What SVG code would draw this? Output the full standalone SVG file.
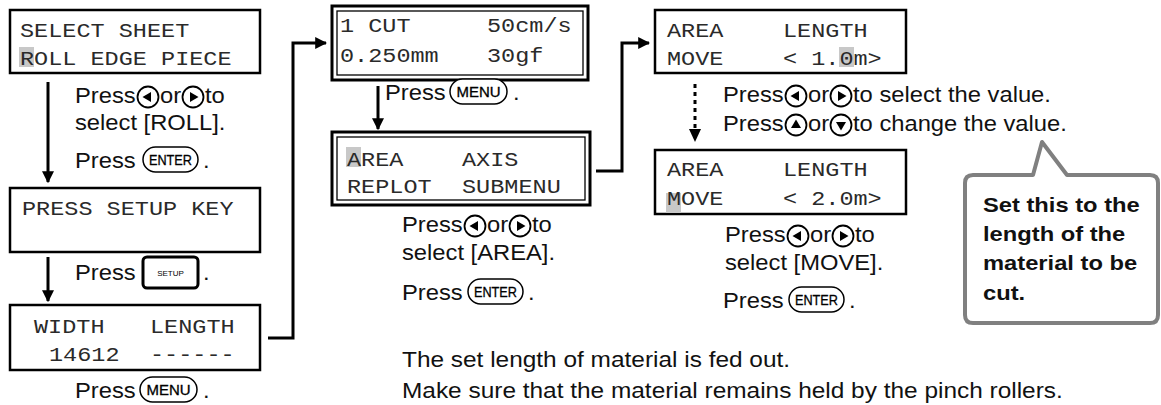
<svg xmlns="http://www.w3.org/2000/svg" width="1161" height="405" viewBox="0 0 1161 405">
<style>
.lcd{fill:#fff;stroke:#000;stroke-width:2.5}
.out{fill:#fff;stroke:#000;stroke-width:3}
.inn{fill:none;stroke:#000;stroke-width:1.3}
.mono{font-family:"Liberation Mono","DejaVu Sans Mono",monospace;font-size:21px;fill:#2a2a2a;transform-box:fill-box;transform-origin:0 0;transform:scaleX(1.12)}
.t{font-family:"Liberation Sans",Arial,sans-serif;font-size:22px;fill:#111;transform-box:fill-box;transform-origin:0 0;transform:scaleX(1.08)}
.n{font-family:"Liberation Sans",Arial,sans-serif;font-size:22px;fill:#111;transform-box:fill-box;transform-origin:0 0;transform:scaleX(1.11)}
.b{font-family:"Liberation Sans",Arial,sans-serif;font-size:21px;font-weight:bold;fill:#111;transform-box:fill-box;transform-origin:0 0;transform:scaleX(1.13)}
.hl{fill:#c8c8c8}
.ln{fill:none;stroke:#000;stroke-width:3}
.dot{fill:none;stroke:#000;stroke-width:3;stroke-dasharray:4 4}
.key{fill:#fff;stroke:#000;stroke-width:1.5}
.kt{font-family:"Liberation Sans",Arial,sans-serif;font-size:14px;fill:#000;stroke:#000;stroke-width:0.3}
.st{font-family:"Liberation Sans",Arial,sans-serif;font-size:8px;fill:#000}
</style>
<defs>
<g id="bL"><circle r="10.5" fill="#fff" stroke="#000" stroke-width="1.8"/><polygon points="-5.5,0 3,-5 3,5" fill="#000"/></g>
<g id="bR"><circle r="10.5" fill="#fff" stroke="#000" stroke-width="1.8"/><polygon points="5.5,0 -3,-5 -3,5" fill="#000"/></g>
<g id="bU"><circle r="10.5" fill="#fff" stroke="#000" stroke-width="1.8"/><polygon points="0,-5.5 -5,3 5,3" fill="#000"/></g>
<g id="bD"><circle r="10.5" fill="#fff" stroke="#000" stroke-width="1.8"/><polygon points="0,5.5 -5,-3 5,-3" fill="#000"/></g>
<g id="enter"><rect x="0" y="-21" width="55" height="25" rx="12.5" class="key"/><text x="27.5" y="-3" text-anchor="middle" class="kt" textLength="43" lengthAdjust="spacingAndGlyphs">ENTER</text></g>
<g id="menu"><rect x="0" y="-21" width="57" height="25" rx="12.5" class="key"/><text x="28.5" y="-3" text-anchor="middle" class="kt" textLength="44" lengthAdjust="spacingAndGlyphs">MENU</text></g>
<marker id="ah" viewBox="0 0 10 10" refX="9" refY="5" markerWidth="4" markerHeight="4" orient="auto" markerUnits="strokeWidth"><path d="M0,0 L10,5 L0,10 z" fill="#000"/></marker>
</defs>

<g id="connectors">
<line x1="48" y1="82" x2="48" y2="182" class="ln" marker-end="url(#ah)"/>
<line x1="48" y1="257" x2="48" y2="301" class="ln" marker-end="url(#ah)"/>
<polyline points="268,338 293,338 293,43 326,43" class="ln" marker-end="url(#ah)"/>
<line x1="378" y1="86" x2="378" y2="129" class="ln" marker-end="url(#ah)"/>
<polyline points="596,171 622,171 622,43 649,43" class="ln" marker-end="url(#ah)"/>
<line x1="695" y1="84" x2="695" y2="130" class="dot"/>
<polygon points="689,129 701,129 695,142" fill="#000"/>
</g>

<g id="lcd-select-sheet">
<rect x="10" y="10" width="250" height="63" class="lcd"/>
<rect x="19" y="47" width="15" height="20" class="hl"/>
<text x="20" y="37" class="mono">SELECT SHEET</text>
<text x="20" y="65" class="mono">ROLL EDGE PIECE</text>
</g>

<g id="step-roll">
<text x="75" y="103" class="t">Press</text>
<use href="#bL" x="148" y="97"/>
<text x="160" y="103" class="t">or</text>
<use href="#bR" x="193" y="97"/>
<text x="205" y="103" class="t">to</text>
<text x="75" y="130" class="t">select [ROLL].</text>
<text x="75" y="168" class="t">Press</text>
<use href="#enter" x="143" y="168"/>
<text x="203" y="168" class="t">.</text>
</g>

<g id="lcd-press-setup">
<rect x="10" y="188" width="250" height="64" class="lcd"/>
<text x="22" y="215" class="mono">PRESS SETUP KEY</text>
</g>

<g id="step-setup">
<text x="75" y="280" class="t">Press</text>
<rect x="143" y="257" width="55" height="31" rx="4" fill="#fff" stroke="#000" stroke-width="3"/>
<text x="170.5" y="276" text-anchor="middle" class="st">SETUP</text>
<text x="203" y="280" class="t">.</text>
</g>

<g id="lcd-width-length">
<rect x="10" y="305" width="250" height="65" class="lcd"/>
<text x="34" y="333" class="mono">WIDTH</text>
<text x="150" y="333" class="mono">LENGTH</text>
<text x="49" y="361" class="mono">14612</text>
<text x="150" y="361" class="mono">------</text>
</g>

<g id="step-menu1">
<text x="75" y="398" class="t">Press</text>
<use href="#menu" x="140" y="398"/>
<text x="203" y="398" class="t">.</text>
</g>

<g id="lcd-cut">
<rect x="332" y="6" width="256" height="74" class="out"/>
<rect x="337" y="11" width="246" height="64" class="inn"/>
<text x="340" y="32" class="mono">1 CUT</text>
<text x="487" y="32" class="mono">50cm/s</text>
<text x="340" y="62" class="mono">0.250mm</text>
<text x="487" y="62" class="mono">30gf</text>
</g>

<g id="step-menu2">
<text x="385" y="100" class="t">Press</text>
<use href="#menu" x="450" y="100"/>
<text x="513" y="100" class="t">.</text>
</g>

<g id="lcd-area">
<rect x="332" y="132" width="258" height="73" class="out"/>
<rect x="337" y="137" width="248" height="63" class="inn"/>
<rect x="346" y="147" width="15" height="20" class="hl"/>
<text x="347" y="166" class="mono">AREA</text>
<text x="462" y="166" class="mono">AXIS</text>
<text x="347" y="193" class="mono">REPLOT</text>
<text x="462" y="193" class="mono">SUBMENU</text>
</g>

<g id="step-area">
<text x="402" y="232" class="t">Press</text>
<use href="#bL" x="475" y="226"/>
<text x="487" y="232" class="t">or</text>
<use href="#bR" x="520" y="226"/>
<text x="532" y="232" class="t">to</text>
<text x="402" y="260" class="t">select [AREA].</text>
<text x="402" y="300" class="t">Press</text>
<use href="#enter" x="468" y="300"/>
<text x="528" y="300" class="t">.</text>
</g>

<g id="lcd-length-1">
<rect x="655" y="10" width="251" height="63" class="lcd"/>
<rect x="839" y="47" width="15" height="20" class="hl"/>
<text x="667" y="37" class="mono">AREA</text>
<text x="783" y="37" class="mono">LENGTH</text>
<text x="667" y="65" class="mono">MOVE</text>
<text x="783" y="65" class="mono">&lt; 1.0m&gt;</text>
</g>

<g id="step-value">
<text x="723" y="102" class="t">Press</text>
<use href="#bL" x="796" y="96"/>
<text x="808" y="102" class="t">or</text>
<use href="#bR" x="841" y="96"/>
<text x="853" y="102" class="t">to select the value.</text>
<text x="723" y="131" class="t">Press</text>
<use href="#bU" x="796" y="125"/>
<text x="808" y="131" class="t">or</text>
<use href="#bD" x="841" y="125"/>
<text x="853" y="131" class="t">to change the value.</text>
</g>

<g id="lcd-length-2">
<rect x="655" y="150" width="251" height="64" class="lcd"/>
<rect x="666" y="193" width="15" height="20" class="hl"/>
<text x="667" y="176" class="mono">AREA</text>
<text x="783" y="176" class="mono">LENGTH</text>
<text x="667" y="205" class="mono">MOVE</text>
<text x="783" y="205" class="mono">&lt; 2.0m&gt;</text>
</g>

<g id="step-move">
<text x="725" y="242" class="t">Press</text>
<use href="#bL" x="798" y="236"/>
<text x="810" y="242" class="t">or</text>
<use href="#bR" x="843" y="236"/>
<text x="855" y="242" class="t">to</text>
<text x="725" y="270" class="t">select [MOVE].</text>
<text x="723" y="308" class="t">Press</text>
<use href="#enter" x="789" y="308"/>
<text x="849" y="308" class="t">.</text>
</g>

<g id="callout">
<path d="M973,175 L1033,175 L1042,142 L1067,175 L1150,175 Q1158,175 1158,183 L1158,315 Q1158,323 1150,323 L973,323 Q965,323 965,315 L965,183 Q965,175 973,175 Z" fill="#fff" stroke="#808080" stroke-width="4" stroke-linejoin="round"/>
<text x="983" y="212" class="b">Set this to the</text>
<text x="983" y="241" class="b">length of the</text>
<text x="983" y="270" class="b">material to be</text>
<text x="983" y="300" class="b">cut.</text>
</g>

<g id="notes">
<text x="402" y="367" class="n">The set length of material is fed out.</text>
<text x="402" y="398" class="n">Make sure that the material remains held by the pinch rollers.</text>
</g>
</svg>
